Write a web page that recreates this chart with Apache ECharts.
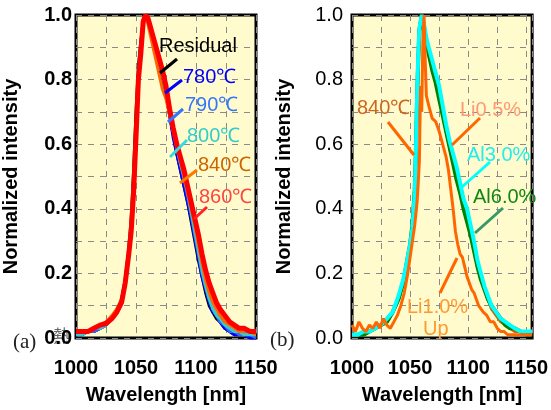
<!DOCTYPE html>
<html><head><meta charset="utf-8">
<script src="https://cdn.jsdelivr.net/npm/echarts@6/dist/echarts.min.js"></script>
<style>html,body{margin:0;padding:0;background:#fff}#c{width:551px;height:410px}</style>
</head><body><div id="c"></div>
<script>
// ---- Panel (a): wavelength grid and spectra ----
const wlA = [1000,1005,1010,1015,1020,1025,1030,1034,1038,1041,1044,1046,1048,1050,1052,1054,1056,1058,1060,1063,1066,1069,1072,1075,1078,1081,1084,1087,1090,1093,1096,1099,1102,1105,1108,1111,1114,1117,1120,1124,1128,1132,1136,1140,1145,1150];
const residual = [0.01,0.01,0.02,0.02,0.03,0.04,0.06,0.08,0.12,0.18,0.28,0.37,0.52,0.70,0.84,0.92,0.98,1.00,0.98,0.94,0.89,0.85,0.80,0.75,0.69,0.63,0.57,0.52,0.47,0.42,0.36,0.30,0.24,0.19,0.14,0.10,0.08,0.06,0.05,0.03,0.02,0.01,0.01,0.01,0.00,0.00];
const t780 = [0.01,0.01,0.02,0.02,0.03,0.04,0.06,0.08,0.11,0.17,0.26,0.34,0.47,0.63,0.80,0.90,0.97,1.00,0.98,0.94,0.89,0.85,0.82,0.76,0.69,0.62,0.57,0.52,0.47,0.42,0.37,0.31,0.25,0.19,0.15,0.11,0.08,0.07,0.05,0.03,0.02,0.01,0.01,0.01,0.00,0.00];
const t790 = [0.01,0.01,0.02,0.02,0.03,0.04,0.06,0.08,0.11,0.17,0.26,0.34,0.47,0.63,0.80,0.90,0.97,1.00,0.98,0.94,0.90,0.86,0.81,0.76,0.70,0.64,0.59,0.54,0.49,0.44,0.38,0.32,0.26,0.20,0.16,0.12,0.09,0.07,0.05,0.04,0.02,0.02,0.01,0.01,0.01,0.00];
const t800 = [0.01,0.01,0.02,0.03,0.03,0.04,0.06,0.09,0.12,0.18,0.27,0.35,0.48,0.64,0.81,0.90,0.97,1.00,0.98,0.94,0.90,0.86,0.82,0.77,0.71,0.65,0.59,0.54,0.50,0.45,0.39,0.33,0.27,0.21,0.16,0.12,0.09,0.07,0.06,0.04,0.03,0.02,0.02,0.01,0.01,0.01];
const t840 = [0.02,0.02,0.02,0.03,0.04,0.05,0.07,0.09,0.12,0.18,0.27,0.35,0.48,0.64,0.81,0.90,0.98,1.00,0.97,0.92,0.87,0.82,0.77,0.74,0.69,0.64,0.59,0.55,0.50,0.45,0.40,0.35,0.29,0.23,0.18,0.14,0.11,0.09,0.07,0.05,0.04,0.03,0.02,0.02,0.02,0.01];
const t860 = [0.02,0.02,0.02,0.03,0.04,0.045,0.06,0.08,0.11,0.17,0.26,0.33,0.45,0.62,0.80,0.88,0.98,1.00,0.99,0.95,0.91,0.87,0.83,0.78,0.71,0.65,0.60,0.56,0.52,0.47,0.42,0.37,0.32,0.26,0.21,0.17,0.14,0.11,0.09,0.07,0.05,0.04,0.03,0.03,0.02,0.02];

// ---- Panel (b) ----
const wlB = [1000,1005,1010,1015,1020,1025,1030,1035,1040,1044,1047,1050,1052,1054,1055,1056,1057,1058,1060,1062,1064,1066,1069,1072,1075,1078,1081,1084,1087,1090,1093,1096,1099,1102,1105,1108,1111,1114,1117,1120,1124,1128,1132,1136,1140,1145,1150,1155];
const b840 = [0.01,0.01,0.01,0.02,0.03,0.04,0.05,0.08,0.12,0.17,0.22,0.28,0.34,0.45,0.57,0.73,0.86,0.95,1.00,0.96,0.92,0.88,0.84,0.79,0.75,0.70,0.64,0.59,0.54,0.50,0.45,0.41,0.36,0.32,0.27,0.22,0.18,0.15,0.12,0.09,0.07,0.05,0.04,0.03,0.02,0.02,0.01,0.01];
const li05 = [0.01,0.01,0.02,0.02,0.03,0.04,0.05,0.08,0.12,0.17,0.22,0.28,0.34,0.45,0.57,0.74,0.87,0.96,1.00,0.96,0.92,0.88,0.84,0.80,0.75,0.70,0.65,0.60,0.55,0.50,0.46,0.41,0.37,0.33,0.28,0.23,0.19,0.15,0.12,0.10,0.08,0.06,0.05,0.03,0.03,0.02,0.02,0.01];
const al60 = [0.01,0.01,0.01,0.02,0.03,0.04,0.05,0.08,0.12,0.17,0.23,0.29,0.35,0.46,0.58,0.74,0.86,0.95,1.00,0.96,0.92,0.88,0.83,0.79,0.74,0.69,0.64,0.59,0.54,0.49,0.45,0.40,0.36,0.32,0.27,0.22,0.18,0.15,0.12,0.10,0.08,0.06,0.04,0.03,0.03,0.02,0.01,0.01];
const al30 = [0.01,0.01,0.02,0.02,0.03,0.04,0.06,0.08,0.13,0.18,0.23,0.29,0.34,0.45,0.58,0.75,0.88,0.96,1.00,0.97,0.93,0.90,0.86,0.82,0.78,0.72,0.66,0.61,0.57,0.53,0.48,0.43,0.40,0.35,0.30,0.24,0.20,0.16,0.13,0.10,0.08,0.06,0.05,0.04,0.03,0.02,0.02,0.02];
const wlUp = [1000,1003,1006,1009,1012,1015,1018,1021,1024,1027,1030,1033,1036,1039,1042,1045,1048,1050,1052,1054,1056,1057,1058,1059,1060,1061,1062,1063,1064,1066,1069,1072,1075,1078,1081,1083,1085,1087,1089,1091,1093,1095,1097,1099,1101,1103,1105,1107,1109,1111,1113,1116,1119,1122,1125,1128,1131,1134,1138,1142,1146,1150,1155];
const li10Up = [0.04,0.02,0.05,0.03,0.02,0.04,0.03,0.05,0.03,0.06,0.04,0.03,0.05,0.07,0.10,0.14,0.20,0.25,0.30,0.35,0.42,0.48,0.55,0.78,0.70,0.92,1.00,0.86,0.75,0.72,0.68,0.67,0.64,0.60,0.56,0.52,0.46,0.40,0.33,0.29,0.26,0.25,0.22,0.19,0.17,0.15,0.14,0.12,0.10,0.09,0.08,0.07,0.05,0.05,0.03,0.02,0.02,0.01,0.01,0.01,0.01,0.01,0.01];

const xTicks = [1000,1050,1100,1150];
const yTicks = [0,0.2,0.4,0.6,0.8,1.0];

function pairs(xs, ys){ return xs.map((x,i)=>[x, ys[i]]); }
function xFmt(v){ return xTicks.indexOf(Math.round(v))>=0 && Math.abs(v-Math.round(v))<1e-6 ? String(Math.round(v)) : ''; }
function yFmt(v){ for (const t of yTicks){ if (Math.abs(v-t)<1e-6) return t.toFixed(1); } return ''; }

const FONT = '"Liberation Sans", Arial, sans-serif';
const dashed = {show:true, lineStyle:{color:'#8a8a8a', type:[6,6], width:1}};

function xAx(idx, max){
  return {type:'value', gridIndex:idx, min:1000, max:max, interval:25,
    axisLine:{show:false}, axisTick:{show:false}, splitLine:dashed,
    axisLabel:{formatter:xFmt, fontFamily:FONT, fontSize:20, fontWeight:'bold', color:'#000', margin:20, showMaxLabel:true},
    name:'Wavelength [nm]', nameLocation:'middle', nameGap:47,
    nameTextStyle:{fontFamily:FONT, fontSize:20, fontWeight:'bold', color:'#000'}};
}
function yAx(idx, bold, margin, gap){
  return {type:'value', gridIndex:idx, min:0, max:1, interval:0.1,
    axisLine:{show:false}, axisTick:{show:false}, splitLine:dashed,
    axisLabel:{formatter:yFmt, fontFamily:FONT, fontSize:20, fontWeight:bold?'bold':'normal', color:'#000', margin:margin},
    name:'Normalized intensity', nameLocation:'middle', nameGap:gap,
    nameTextStyle:{fontFamily:FONT, fontSize:20, fontWeight:'bold', color:'#000'}};
}
function ser(idx, xs, ys, color, w){
  return {type:'line', xAxisIndex:idx, yAxisIndex:idx, data:pairs(xs, ys), showSymbol:false,
    lineStyle:{color:color, width:w}, itemStyle:{color:color}, z:3};
}
function txt(x, y, s, color, extra){
  return Object.assign({type:'text', x:x, y:y, z:100, style:{text:s, fill:color, font:'20px '+FONT, textVerticalAlign:'middle'}}, extra||{});
}
function ln(x1,y1,x2,y2,color,w){
  return {type:'line', z:100, shape:{x1:x1,y1:y1,x2:x2,y2:y2}, style:{stroke:color, lineWidth:w||3}};
}

const option = {
  animation:false,
  backgroundColor:'#fff',
  grid:[
    {left:76, top:15, width:180, height:333, show:true, backgroundColor:'#FFFBCC', borderColor:'#000', borderWidth:3, z:0},
    {left:352, top:15, width:185, height:332, show:true, backgroundColor:'#FFFBCC', borderColor:'#000', borderWidth:3, z:0}
  ],
  xAxis:[xAx(0,1150), xAx(1,1155)],
  yAxis:[yAx(0,true,4,55), yAx(1,false,9,58)],
  series:[
    ser(0, wlA, residual, '#000000', 3),
    ser(0, wlA, t780, '#0000ff', 3),
    ser(0, wlA, t790, '#3366ff', 3),
    ser(0, wlA, t800, '#33cccc', 3),
    ser(0, wlA, t840, '#ff6600', 3),
    ser(0, wlA, t860, '#ff0000', 5),
    ser(1, wlB, b840, '#cc6600', 3),
    ser(1, wlB, li05, '#ff0000', 3),
    ser(1, wlB, al60, '#008000', 4),
    ser(1, wlB, al30, '#00ffff', 4),
    ser(1, wlUp, li10Up, '#ff6600', 3)
  ],
  graphic:[
    {type:'text', x:53, y:336, z:0, style:{text:'熱', fill:'#666', font:'17px "Noto Sans CJK JP"', textVerticalAlign:'middle'}},
    {type:'text', x:13, y:342, z:100, style:{text:'(a)', fill:'#222', font:'21px "Liberation Serif", serif', textVerticalAlign:'middle'}},
    {type:'text', x:270, y:340, z:100, style:{text:'(b)', fill:'#222', font:'21px "Liberation Serif", serif', textVerticalAlign:'middle'}},
    // panel (a) labels
    txt(159, 46, 'Residual', '#000000'),
    ln(177,59,160,73,'#000000'),
    txt(183, 77, '780℃', '#0000ff'),
    ln(182,80,165,93,'#0000ff'),
    txt(185, 105, '790℃', '#3377ff'),
    ln(183,109,168,122,'#3377ff'),
    txt(187, 136, '800℃', '#33cccc'),
    ln(187,140,170,157,'#33dddd'),
    txt(198, 165, '840℃', '#cc6600'),
    ln(197,170,180,183,'#ff7700'),
    txt(199, 197, '860℃', '#ff4444'),
    ln(207,207,194,219,'#ff2222'),
    // panel (b) labels
    txt(357, 108, '840℃', '#cc6622'),
    ln(388,122,414,155,'#ff6600'),
    txt(460, 110, 'Li0.5%', '#ff9977'),
    ln(480,118,452,145,'#ff6600'),
    txt(467, 155, 'Al3.0%', '#22eeee'),
    ln(490,162,462,187,'#00ffff'),
    txt(473, 197, 'Al6.0%', '#118811'),
    ln(503,208,475,233,'#339966'),
    txt(407, 307, 'Li1.0%', '#ff9933'),
    txt(423, 329, 'Up', '#ff9933'),
    ln(440,293,457,258,'#ff6600')
  ]
};
const chart = echarts.init(document.getElementById('c'), null, {renderer:'canvas'});
chart.setOption(option);
</script></body></html>
